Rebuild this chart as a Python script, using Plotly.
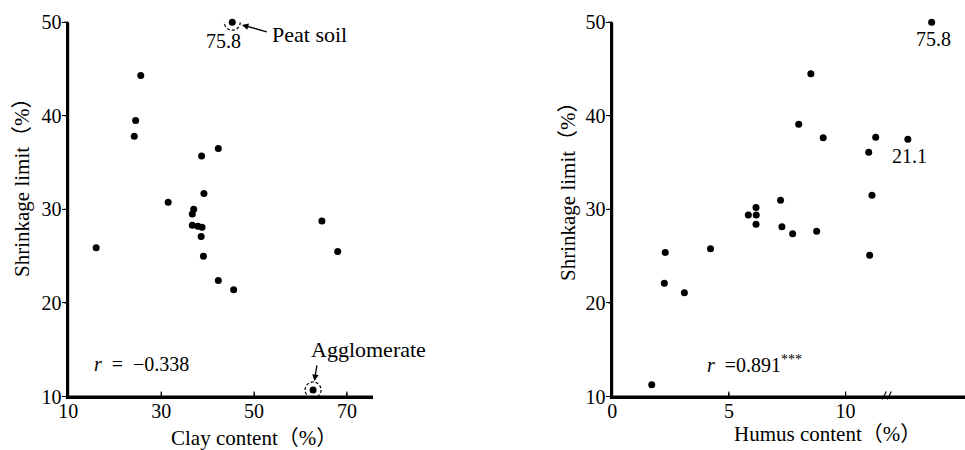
import numpy as np
import plotly.graph_objects as go

# Left panel: clay content vs shrinkage limit
clay = [45.3, 25.6, 24.5, 24.2, 42.3, 38.7, 39.2, 31.5, 37.0, 36.7, 36.7,
        37.9, 38.8, 38.6, 39.1, 16.0, 42.3, 45.6, 64.6, 68.0, 62.7]
shrink_clay = [75.8, 44.3, 39.5, 37.8, 36.5, 35.7, 31.7, 30.75, 30.0, 29.5, 28.3,
               28.2, 28.1, 27.1, 25.0, 25.9, 22.4, 21.4, 28.75, 25.5, 10.7]
PEAT_IDX = 0
AGGL_IDX = 20

# Right panel: humus content vs shrinkage limit (below the axis break)
humus = [8.51, 7.99, 9.04, 11.29, 10.99, 11.13, 7.21, 5.83, 6.16, 6.17,
         6.16, 7.27, 7.73, 8.76, 11.03, 4.21, 2.27, 2.23, 3.09, 1.69]
shrink_humus = [44.5, 39.1, 37.65, 37.7, 36.1, 31.5, 30.96, 29.4, 30.2, 29.4,
                28.4, 28.15, 27.4, 27.65, 25.1, 25.8, 25.4, 22.1, 21.1, 11.25]
# beyond the axis break
humus_hi = [21.1, 27.3]
shrink_hi = [37.5, 75.8]

r_clay = "−0.338"
r_humus = "0.891***"

x_ticks_clay = [10, 30, 50, 70]
x_ticks_humus = [0, 5, 10]
y_ticks = [10, 20, 30, 40, 50]

Y_TOP = 50.0        # off-scale values are drawn on the top edge
BREAK_X = 11.83     # humus axis break

W, H = 965, 450
SERIF = "Liberation Serif, Times New Roman, serif"
CJK = "Liberation Serif, Noto Sans CJK JP, serif"


def px(v, total):
    return v / total


def capped(vals):
    return np.minimum(np.asarray(vals, dtype=float), Y_TOP).tolist()


def to_paper(v, rng, dom):
    return dom[0] + (v - rng[0]) / (rng[1] - rng[0]) * (dom[1] - dom[0])


# subplot geometry
Y_RANGE = [10, 50]
Y_DOM = [1 - 396.5 / H, 1 - 22.2 / H]
X1_RANGE, X1_DOM = [10, 75.6], [px(68.3, W), px(373, W)]
X2_RANGE, X2_DOM = [0, BREAK_X], [px(612.3, W), px(888.3, W)]
X3_RANGE, X3_DOM = [16, 36], [px(888.3, W), 1.0]

dot = dict(color="black", size=7)

fig = go.Figure()
fig.add_trace(go.Scatter(x=clay, y=capped(shrink_clay), mode="markers",
                         marker=dot, cliponaxis=False, xaxis="x", yaxis="y",
                         showlegend=False, hoverinfo="skip"))
fig.add_trace(go.Scatter(x=humus, y=capped(shrink_humus), mode="markers",
                         marker=dot, cliponaxis=False, xaxis="x2", yaxis="y2",
                         showlegend=False, hoverinfo="skip"))
fig.add_trace(go.Scatter(x=humus_hi, y=capped(shrink_hi), mode="markers",
                         marker=dot, cliponaxis=False, xaxis="x3", yaxis="y3",
                         showlegend=False, hoverinfo="skip"))

axis_common = dict(showline=True, linecolor="black", linewidth=1.8,
                   showgrid=False, zeroline=False, automargin=False,
                   tickfont=dict(family=SERIF, size=20, color="black"),
                   tickcolor="black", ticklen=4, tickwidth=1.2)

fig.update_layout(
    width=W, height=H,
    margin=dict(l=0, r=0, t=0, b=0),
    paper_bgcolor="white", plot_bgcolor="white",
    xaxis=dict(domain=X1_DOM, range=X1_RANGE, tickvals=x_ticks_clay,
               ticks="inside", anchor="y", ticklabelstandoff=-4, **axis_common),
    yaxis=dict(domain=Y_DOM, range=Y_RANGE, tickvals=y_ticks,
               ticks="outside", anchor="x", ticklabelstandoff=-3, **axis_common),
    xaxis2=dict(domain=X2_DOM, range=X2_RANGE, tickvals=x_ticks_humus,
                ticks="inside", anchor="y2", ticklabelstandoff=-4, **axis_common),
    yaxis2=dict(domain=Y_DOM, range=Y_RANGE, tickvals=y_ticks,
                ticks="outside", anchor="x2", ticklabelstandoff=-3, **axis_common),
    # segment of the humus axis past the break
    xaxis3=dict(domain=X3_DOM, range=X3_RANGE, showticklabels=False,
                ticks="", anchor="y3", showline=True, linecolor="black",
                linewidth=1.8, showgrid=False, zeroline=False, automargin=False),
    yaxis3=dict(domain=Y_DOM, range=Y_RANGE, showticklabels=False, ticks="",
                anchor="x3", showline=False, showgrid=False, zeroline=False,
                automargin=False),
)

# axis frame lines and tick marks
frame = dict(color="black", width=1.8)
tick_line = dict(color="black", width=1.2)
for x_dom, x_rng, xt in ((X1_DOM, X1_RANGE, x_ticks_clay),
                         (X2_DOM, X2_RANGE, x_ticks_humus)):
    fig.add_shape(type="line", xref="paper", yref="paper",
                  x0=x_dom[0], x1=x_dom[1], y0=Y_DOM[0], y1=Y_DOM[0], line=frame)
    fig.add_shape(type="line", xref="paper", yref="paper",
                  x0=x_dom[0], x1=x_dom[0], y0=Y_DOM[0], y1=Y_DOM[1], line=frame)
    for t in xt:
        fig.add_shape(type="line", xref="paper", yref="paper",
                      ysizemode="pixel", yanchor=Y_DOM[0], y0=0, y1=5,
                      x0=to_paper(t, x_rng, x_dom), x1=to_paper(t, x_rng, x_dom),
                      line=tick_line)
    for t in y_ticks:
        fig.add_shape(type="line", xref="paper", yref="paper",
                      xsizemode="pixel", xanchor=x_dom[0], x0=-4, x1=0,
                      y0=to_paper(t, Y_RANGE, Y_DOM), y1=to_paper(t, Y_RANGE, Y_DOM),
                      line=tick_line)
fig.add_shape(type="line", xref="paper", yref="paper",
              x0=X3_DOM[0], x1=X3_DOM[1], y0=Y_DOM[0], y1=Y_DOM[0], line=frame)

# dashed rings around the peat soil and agglomerate samples
for idx in (PEAT_IDX, AGGL_IDX):
    fig.add_shape(type="circle", xref="x", yref="y",
                  xsizemode="pixel", ysizemode="pixel",
                  xanchor=clay[idx], yanchor=capped([shrink_clay[idx]])[0],
                  x0=-8, x1=8, y0=-8, y1=8,
                  line=dict(color="black", width=1.2, dash="3px,2px"))

# axis break marks
for off in (-5, 0):
    fig.add_shape(type="line", xref="paper", yref="paper",
                  xsizemode="pixel", ysizemode="pixel",
                  xanchor=X2_DOM[1], yanchor=Y_DOM[0],
                  x0=off - 1, x1=off + 3, y0=-3, y1=5,
                  line=dict(color="black", width=1.2))

ann_font = dict(family=SERIF, size=22, color="black")
num_font = dict(family=SERIF, size=20, color="black")

# peat soil arrow and label
fig.add_annotation(x=clay[PEAT_IDX], y=Y_TOP, xref="x", yref="y", text="",
                   showarrow=True, ax=36, ay=10, arrowhead=2, arrowsize=1,
                   arrowwidth=1.3, arrowcolor="black", standoff=10)
fig.add_annotation(x=clay[PEAT_IDX], y=Y_TOP, xref="x", yref="y", text="Peat soil",
                   showarrow=False, xanchor="left", yanchor="middle",
                   xshift=38, yshift=-12, font=ann_font)
fig.add_annotation(x=clay[PEAT_IDX], y=Y_TOP, xref="x", yref="y",
                   text=f"{shrink_clay[PEAT_IDX]}", showarrow=False,
                   xanchor="center", yanchor="middle",
                   xshift=-9, yshift=-19, font=num_font)

# agglomerate arrow and label
fig.add_annotation(x=clay[AGGL_IDX], y=shrink_clay[AGGL_IDX], xref="x", yref="y",
                   text="", showarrow=True, ax=4, ay=-26, arrowhead=2, arrowsize=1,
                   arrowwidth=1.3, arrowcolor="black", standoff=9)
fig.add_annotation(x=clay[AGGL_IDX], y=shrink_clay[AGGL_IDX], xref="x", yref="y",
                   text="Agglomerate", showarrow=False, xanchor="left",
                   yanchor="middle", xshift=-4, yshift=40, font=ann_font)

# off-scale labels in the right panel
fig.add_annotation(x=humus_hi[1], y=Y_TOP, xref="x3", yref="y3",
                   text=f"{shrink_hi[1]}", showarrow=False,
                   xanchor="center", yanchor="middle",
                   xshift=2, yshift=-17, font=num_font)
fig.add_annotation(x=humus_hi[0], y=shrink_hi[0], xref="x3", yref="y3",
                   text=f"{humus_hi[0]}", showarrow=False,
                   xanchor="center", yanchor="middle",
                   xshift=2, yshift=-17, font=num_font)

# correlation coefficients
fig.add_annotation(x=px(92, W), y=1 - 364 / H, xref="paper", yref="paper",
                   text=f"<i>r</i>  =  {r_clay}", showarrow=False, xanchor="left",
                   yanchor="middle", font=num_font)
fig.add_annotation(x=px(705, W), y=1 - 364 / H, xref="paper", yref="paper",
                   text=f"<i>r</i>  ={r_humus.replace('***', '<sup>***</sup>')}",
                   showarrow=False, xanchor="left", yanchor="middle", font=num_font)

# axis titles
title_font = dict(family=CJK, size=21, color="black")
fig.add_annotation(x=px(254, W), y=1 - 438 / H, xref="paper", yref="paper",
                   text="Clay content（%）", showarrow=False,
                   xanchor="center", yanchor="middle", font=title_font)
fig.add_annotation(x=px(827, W), y=1 - 434 / H, xref="paper", yref="paper",
                   text="Humus content（%）", showarrow=False,
                   xanchor="center", yanchor="middle", font=title_font)
fig.add_annotation(x=px(22, W), y=1 - 182 / H, xref="paper", yref="paper",
                   text="Shrinkage limit（%）", showarrow=False, textangle=-90,
                   xanchor="center", yanchor="middle", font=title_font)
fig.add_annotation(x=px(568, W), y=1 - 186 / H, xref="paper", yref="paper",
                   text="Shrinkage limit（%）", showarrow=False, textangle=-90,
                   xanchor="center", yanchor="middle", font=title_font)

fig.write_html("out.html")
